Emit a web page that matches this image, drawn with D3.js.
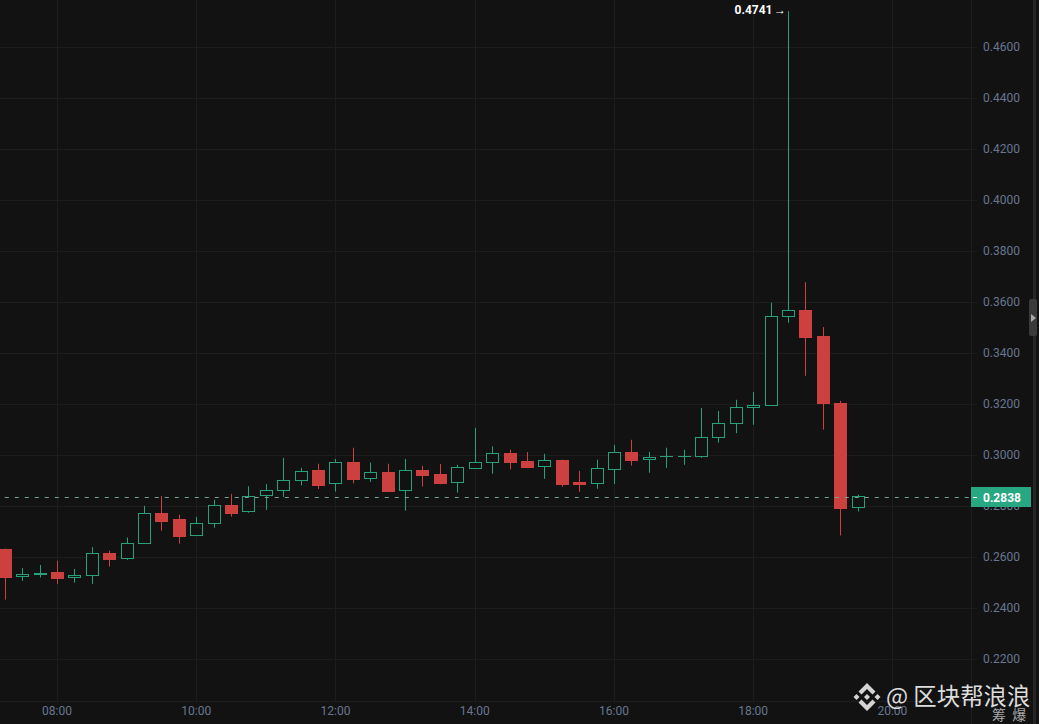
<html>
<head>
<meta charset="UTF-8">
<script src="https://d3js.org/d3.v7.min.js"></script>
<style>
  html, body { margin: 0; padding: 0; background: #121212; overflow: hidden; }
  svg { display: block; }
  text { font-family: Roboto, "Noto Sans", sans-serif; }
  .gridline { stroke: #1d1d1d; stroke-width: 1px; }
  .axis .domain { display: none; }
  .axis line { stroke: #1d1d1d; }
  .axis text { fill: #697690; font-size: 12px; }
</style>
</head>
<body>
<svg id="chart" width="1039" height="724"></svg>
<script>
// 15 minute candles
const times = ["07:15","07:30","07:45","08:00","08:15","08:30","08:45","09:00","09:15","09:30",
  "09:45","10:00","10:15","10:30","10:45","11:00","11:15","11:30","11:45","12:00",
  "12:15","12:30","12:45","13:00","13:15","13:30","13:45","14:00","14:15","14:30",
  "14:45","15:00","15:15","15:30","15:45","16:00","16:15","16:30","16:45","17:00",
  "17:15","17:30","17:45","18:00","18:15","18:30","18:45","19:00","19:15","19:30"];
const opens = [.2633,.2524,.2532,.2542,.2524,.2528,.2617,.2598,.2657,.2774,
  .2750,.2687,.2732,.2805,.2779,.2842,.2861,.2900,.2942,.2889,
  .2974,.2908,.2935,.2861,.2942,.2927,.2893,.2951,.2971,.3009,
  .2978,.2955,.2982,.2895,.2889,.2947,.3013,.2983,.2996,.2996,
  .2995,.3069,.3124,.3191,.3195,.3547,.3570,.3468,.3205,.2795];
const highs = [.2633,.2557,.2569,.2586,.2554,.2639,.2625,.2677,.2801,.2840,
  .2766,.2758,.2825,.2848,.2878,.2886,.2989,.2950,.2966,.2985,
  .3029,.2971,.2966,.2985,.2958,.2965,.2962,.3107,.3034,.3021,
  .3012,.3005,.2982,.2938,.2982,.3040,.3060,.3013,.3029,.3021,
  .3185,.3173,.3217,.3248,.3598,.4741,.3678,.3502,.3213,.2845];
const lows = [.2433,.2507,.2520,.2495,.2500,.2495,.2563,.2589,.2655,.2703,
  .2653,.2684,.2715,.2759,.2774,.2785,.2836,.2881,.2867,.2857,
  .2889,.2895,.2857,.2782,.2877,.2886,.2853,.2951,.2927,.2944,
  .2949,.2907,.2876,.2856,.2868,.2887,.2959,.2931,.2950,.2962,
  .2989,.3049,.3086,.3119,.3195,.3519,.3311,.3100,.2685,.2779];
const closes = [.2524,.2533,.2537,.2519,.2531,.2616,.2593,.2655,.2773,.2742,
  .2684,.2733,.2804,.2774,.2839,.2863,.2902,.2937,.2884,.2973,
  .2907,.2933,.2861,.2941,.2923,.2891,.2953,.2973,.3008,.2974,
  .2954,.2980,.2887,.2887,.2949,.3012,.2982,.2992,.2996,.2996,
  .3071,.3125,.3188,.3197,.3545,.3569,.3464,.3205,.2793,.2838];
const priceTicks = [.22,.24,.26,.28,.30,.32,.34,.36,.38,.40,.42,.44,.46];
const timeTicks = ["08:00","10:00","12:00","14:00","16:00","18:00","20:00"];
const lastPrice = .2838;
const maxPrice = .4741;

const upColor = '#26a17b';
const downColor = '#cd4040';
const bodyWidth = 12;

const svg = d3.select('#chart');
const plotRight = 971;
const plotBottom = 701;
const parseTime = d3.timeParse('%H:%M');

const x = d3.scaleTime().domain([parseTime('08:00'), parseTime('20:00')]).range([57, 892.4]);
const y = d3.scaleLinear().domain([.22, .46]).range([659.1, 47.1]);

const snap = v => Math.round(v) + .5;

// grid
svg.append('g').selectAll('line').data(priceTicks).join('line')
   .attr('class', 'gridline')
   .attr('x1', 0).attr('x2', plotRight)
   .attr('y1', d => snap(y(d))).attr('y2', d => snap(y(d)));
svg.append('g').selectAll('line').data(timeTicks).join('line')
   .attr('class', 'gridline')
   .attr('x1', d => snap(x(parseTime(d)))).attr('x2', d => snap(x(parseTime(d))))
   .attr('y1', 0).attr('y2', plotBottom);

// axis frame and the strip on the far right
svg.append('line').attr('class', 'gridline').attr('x1', 0).attr('x2', plotRight + 62)
   .attr('y1', plotBottom + .5).attr('y2', plotBottom + .5);
svg.append('line').attr('class', 'gridline').attr('x1', plotRight + .5).attr('x2', plotRight + .5)
   .attr('y1', 0).attr('y2', 724);
svg.append('rect').attr('x', 1033).attr('y', 0).attr('width', 3).attr('height', 724).attr('fill', '#262626');

// axes
const yAxis = d3.axisRight(y).tickValues(priceTicks).tickFormat(d3.format('.4f')).tickSize(6).tickPadding(6);
svg.append('g').attr('class', 'axis').attr('transform', 'translate(' + plotRight + ',0)').call(yAxis);

const xAxis = d3.axisBottom(x).tickValues(timeTicks.map(parseTime)).tickFormat(d3.timeFormat('%H:%M')).tickSize(0).tickPadding(5);
svg.append('g').attr('class', 'axis').attr('transform', 'translate(-0.5,' + plotBottom + ')').call(xAxis);

// candles
const candles = times.map((t, i) => ({
  time: parseTime(t), open: opens[i], high: highs[i], low: lows[i], close: closes[i]
}));
const isUp = d => d.close >= d.open;
const cx = d => Math.round(x(d.time)) + .5;

const candle = svg.append('g').selectAll('g').data(candles).join('g');

candle.append('line')
   .attr('x1', cx).attr('x2', cx)
   .attr('y1', d => y(d.high)).attr('y2', d => y(d.low))
   .attr('stroke', d => isUp(d) ? upColor : downColor)
   .attr('stroke-width', 1);

// a doji still needs a tiny height, a zero height rect is not painted
candle.append('rect')
   .attr('x', d => cx(d) - bodyWidth / 2)
   .attr('width', bodyWidth)
   .attr('y', d => snap(y(Math.max(d.open, d.close))))
   .attr('height', d => Math.max(.01, Math.round(Math.abs(y(d.open) - y(d.close)))))
   .attr('fill', d => isUp(d) ? '#121212' : downColor)
   .attr('stroke', d => isUp(d) ? upColor : downColor)
   .attr('stroke-width', 1);

// last price line and label
const lastY = Math.ceil(y(lastPrice)) + .5;
svg.append('line')
   .attr('x1', x(parseTime('07:15'))).attr('x2', plotRight + 6)
   .attr('y1', lastY).attr('y2', lastY)
   .attr('stroke', '#6fa595').attr('stroke-width', 1).attr('stroke-dasharray', '4 6');
svg.append('rect')
   .attr('x', plotRight).attr('y', 487).attr('width', 60).attr('height', 20)
   .attr('fill', '#27a882');
svg.append('line')
   .attr('x1', plotRight + 2).attr('x2', plotRight + 6)
   .attr('y1', lastY).attr('y2', lastY)
   .attr('stroke', '#ffffff');
svg.append('text')
   .attr('x', plotRight + 12).attr('y', lastY + 4)
   .attr('fill', '#ffffff').attr('font-size', 12).attr('font-weight', 700)
   .text(d3.format('.4f')(lastPrice));

// max price marker
svg.append('text')
   .attr('x', x(candles[45].time) - 15.5).attr('y', y(maxPrice) + 3)
   .attr('text-anchor', 'end').attr('fill', '#ffffff').attr('font-size', 12).attr('font-weight', 700)
   .text(d3.format('.4f')(maxPrice));
svg.append('text')
   .attr('x', x(candles[45].time) - 2).attr('y', y(maxPrice) + 3)
   .attr('text-anchor', 'end').attr('fill', '#ffffff').attr('font-size', 12).attr('font-weight', 700)
   .text('→');

// collapse handle
svg.append('rect').attr('x', 1029).attr('y', 299).attr('width', 8).attr('height', 37).attr('rx', 2).attr('fill', '#3a3a3a');
svg.append('path').attr('d', 'M1031 314 L1036 318 L1031 322 Z').attr('fill', '#a8a8a8');

// watermark
const mark = svg.append('g').attr('transform', 'translate(867,697)').attr('fill', '#d4d4d4');
mark.append('path').attr('d', 'M0 -14 L8.5 -5.5 L5.5 -2.5 L0 -8 L-5.5 -2.5 L-8.5 -5.5 Z');
mark.append('path').attr('d', 'M0 14 L8.5 5.5 L5.5 2.5 L0 8 L-5.5 2.5 L-8.5 5.5 Z');
mark.append('path').attr('d', 'M0 -3 L3 0 L0 3 L-3 0 Z');
mark.append('path').attr('d', 'M-10.5 -3 L-7.5 0 L-10.5 3 L-13.5 0 Z');
mark.append('path').attr('d', 'M10.5 -3 L13.5 0 L10.5 3 L7.5 0 Z');
svg.append('text').attr('x', 886).attr('y', 705)
   .attr('fill', '#dcdcdc').attr('font-size', 23.4).style('font-family', '"Noto Sans CJK SC"')
   .text('@ 区块帮浪浪');
svg.append('text').attr('x', 992).attr('y', 720)
   .attr('fill', '#a8a8a8').attr('font-size', 14).attr('word-spacing', 3).style('font-family', '"Noto Sans CJK SC"')
   .text('筹 爆');
</script>
</body>
</html>
